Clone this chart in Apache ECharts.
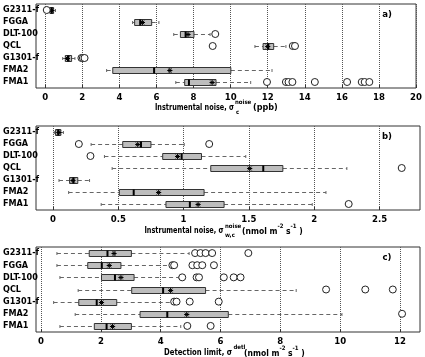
<!DOCTYPE html>
<html>
<head>
<meta charset="utf-8">
<script src="https://cdn.jsdelivr.net/npm/echarts@6/dist/echarts.min.js"></script>
<style>
  html, body { margin: 0; padding: 0; background: #fff; }
  #main { width: 425px; height: 357px; }
</style>
</head>
<body>
<div id="main"></div>
<script>
var instruments = ['G2311-f', 'FGGA', 'DLT-100', 'QCL', 'G1301-f', 'FMA2', 'FMA1'];

// box rows: [whisker low, q1, median, q3, whisker high]
// a) instrumental noise (ppb)
var boxA = [
  [0.18, 0.25, 0.35, 0.45, 0.55],
  [4.71, 4.82, 5.12, 5.74, 6.13],
  [6.93, 7.29, 7.57, 8.02, 8.89],
  [11.31, 11.75, 12.02, 12.32, 12.98],
  [0.94, 1.08, 1.24, 1.42, 1.6],
  [3.31, 3.64, 5.87, 10.01, 12.23],
  [7.04, 7.52, 7.75, 9.21, 11.08]
];
var meanA = [0.33, 5.24, 7.7, 12.0, 1.2, 6.72, 9.0];
var outA = [
  [0.08],
  [],
  [9.17],
  [9.03, 13.35, 13.47],
  [1.95, 2.03, 2.12],
  [],
  [11.96, 12.98, 13.12, 13.33, 14.54, 16.28, 17.07, 17.23, 17.48]
];
var ticksA = [0, 2, 4, 6, 8, 10, 12, 14, 16, 18, 20];

// b) instrumental noise (nmol m-2 s-1)
var boxB = [
  [0.01, 0.02, 0.04, 0.06, 0.08],
  [0.292, 0.534, 0.674, 0.75, 1.005],
  [0.394, 0.84, 0.985, 1.137, 1.476],
  [0.453, 1.208, 1.61, 1.76, 2.25],
  [0.046, 0.127, 0.157, 0.19, 0.28],
  [0.12, 0.508, 0.618, 1.157, 2.09],
  [0.369, 0.865, 1.048, 1.31, 1.985]
];
var meanB = [0.045, 0.649, 0.954, 1.506, 0.153, 0.809, 1.111];
var outB = [[], [0.198, 1.196], [0.287], [2.67], [], [], [2.264]];
var ticksB = [0, 0.5, 1, 1.5, 2, 2.5];

// c) detection limit (nmol m-2 s-1)
var boxC = [
  [0.53, 1.61, 2.22, 3.02, 4.95],
  [0.53, 1.56, 2.03, 2.67, 4.33],
  [0.63, 2.02, 2.47, 3.11, 4.61],
  [1.24, 3.03, 4.08, 5.5, 8.53],
  [0.42, 1.26, 1.86, 2.53, 4.39],
  [1.14, 3.31, 4.22, 6.26, 10.06],
  [0.63, 1.78, 2.19, 3.02, 4.67]
];
var meanC = [2.44, 2.28, 2.67, 4.33, 2.02, 4.87, 2.39];
var outC = [
  [5.15, 5.33, 5.5, 5.72, 6.93],
  [4.39, 4.45, 5.06, 5.22, 5.39, 5.78],
  [4.72, 5.2, 5.28, 6.11, 6.44, 6.67],
  [9.53, 10.84, 11.76],
  [4.45, 4.53, 4.97, 5.94],
  [12.07],
  [4.89, 5.67]
];
var ticksC = [0, 2, 4, 6, 8, 10, 12];

var FONT = '"Liberation Sans Narrow", "Arial Narrow", "DejaVu Sans Condensed", "Liberation Sans", Arial, sans-serif';

var chart = echarts.init(document.getElementById('main'));

// whiskers (dashed), box, median and mean asterisk for one instrument row
function drawBox(params, api) {
  var i = api.value(0);
  var p = [1, 2, 3, 4, 5, 6].map(function (d) {
    return api.coord([api.value(d), i]);
  });
  var y = Math.round(p[0][1]) + 0.5;
  var hh = 3;
  var dash = { stroke: '#666', lineWidth: 1, lineDash: [4, 3] };
  var cap = { stroke: '#666', lineWidth: 1 };
  var ast = { stroke: '#000', lineWidth: 1 };
  var m = p[5], r = 2.6, d = 1.9;
  return {
    type: 'group',
    children: [
      { type: 'line', shape: { x1: p[0][0], y1: y, x2: p[1][0], y2: y }, style: dash },
      { type: 'line', shape: { x1: p[3][0], y1: y, x2: p[4][0], y2: y }, style: dash },
      { type: 'line', shape: { x1: p[0][0], y1: y - 1.5, x2: p[0][0], y2: y + 1.5 }, style: cap },
      { type: 'line', shape: { x1: p[4][0], y1: y - 1.5, x2: p[4][0], y2: y + 1.5 }, style: cap },
      {
        type: 'rect',
        shape: { x: p[1][0], y: y - hh, width: p[3][0] - p[1][0], height: 2 * hh },
        style: { fill: '#bdbdbd', stroke: '#333', lineWidth: 1 }
      },
      { type: 'line', shape: { x1: p[2][0], y1: y - hh, x2: p[2][0], y2: y + hh }, style: { stroke: '#000', lineWidth: 2 } },
      // mean as '*'
      { type: 'line', shape: { x1: m[0] - r, y1: y, x2: m[0] + r, y2: y }, style: ast },
      { type: 'line', shape: { x1: m[0], y1: y - r, x2: m[0], y2: y + r }, style: ast },
      { type: 'line', shape: { x1: m[0] - d, y1: y - d, x2: m[0] + d, y2: y + d }, style: ast },
      { type: 'line', shape: { x1: m[0] - d, y1: y + d, x2: m[0] + d, y2: y - d }, style: ast }
    ]
  };
}

function boxRows(box, mean) {
  return box.map(function (b, i) {
    return [i, b[0], b[1], b[2], b[3], b[4], mean[i]];
  });
}

function outlierPoints(out) {
  var pts = [];
  out.forEach(function (vals, i) {
    vals.forEach(function (v) { pts.push([v, i]); });
  });
  return pts;
}

var grids = [
  { left: 35, right: 5, top: 4, height: 84 },
  { left: 35, right: 5, top: 126, height: 84 },
  { left: 35, right: 5, top: 247, height: 85 }
];

function xAxisFor(idx, min, max, ticks, splitNumber) {
  return {
    type: 'value',
    gridIndex: idx,
    min: min,
    max: max,
    splitNumber: splitNumber,
    axisLine: { show: false },
    axisTick: { show: true, inside: true, length: 3, customValues: ticks, lineStyle: { color: '#333' } },
    axisLabel: {
      customValues: ticks,
      margin: 5,
      color: '#000',
      fontFamily: FONT,
      fontWeight: 'bold',
      fontSize: 9.5
    },
    splitLine: { show: true, lineStyle: { color: '#555', type: 'dotted', width: 1 } }
  };
}

function yAxisFor(idx) {
  return {
    type: 'category',
    gridIndex: idx,
    data: instruments,
    inverse: true,
    axisLine: { show: false },
    axisTick: { show: false },
    splitLine: { show: false },
    axisLabel: {
      interval: 0,
      align: 'left',
      margin: 33,
      color: '#000',
      fontFamily: FONT,
      fontWeight: 'bold',
      fontSize: 9
    }
  };
}

var panels = [
  { box: boxA, mean: meanA, out: outA },
  { box: boxB, mean: meanB, out: outB },
  { box: boxC, mean: meanC, out: outC }
];

var series = [];
panels.forEach(function (pn, k) {
  series.push({
    type: 'custom',
    xAxisIndex: k,
    yAxisIndex: k,
    renderItem: drawBox,
    encode: { x: [1, 2, 3, 4, 5, 6], y: 0 },
    data: boxRows(pn.box, pn.mean),
    z: 3
  });
  series.push({
    type: 'scatter',
    xAxisIndex: k,
    yAxisIndex: k,
    symbol: 'circle',
    symbolSize: 7,
    itemStyle: { color: '#fff', borderColor: '#222', borderWidth: 1, opacity: 1 },
    data: outlierPoints(pn.out),
    z: 4
  });
});

function txt(x, y, s, size, align, sx) {
  return {
    type: 'text',
    x: x,
    y: y,
    scaleX: sx || 1,
    style: {
      text: s,
      fontFamily: FONT,
      fontWeight: 'bold',
      fontSize: size,
      fill: '#000',
      align: align || 'left',
      verticalAlign: 'middle'
    }
  };
}

function unitsText(x, y) {
  return {
    type: 'text',
    x: x,
    y: y,
    style: {
      text: '{t|(nmol m}{s|-2}{t| s}{s|-1}{t| )}',
      fontFamily: FONT,
      fontWeight: 'bold',
      fill: '#000',
      verticalAlign: 'middle',
      rich: {
        t: { fontSize: 8.5, fontWeight: 'bold', fontFamily: FONT, lineHeight: 13, verticalAlign: 'bottom' },
        s: { fontSize: 6, fontWeight: 'bold', fontFamily: FONT, lineHeight: 7, verticalAlign: 'top' }
      }
    }
  };
}

chart.setOption({
  animation: false,
  grid: grids.map(function (g) {
    return Object.assign({ show: true, borderColor: '#333', borderWidth: 1, backgroundColor: '#fff' }, g);
  }),
  xAxis: [
    xAxisFor(0, -0.5, 20, ticksA, 10),
    xAxisFor(1, -0.13, 2.81, ticksB, 6),
    xAxisFor(2, -0.17, 12.67, ticksC, 6)
  ],
  yAxis: [yAxisFor(0), yAxisFor(1), yAxisFor(2)],
  series: series,
  graphic: [
    txt(387, 15, 'a)', 9.5, 'center'),
    txt(387, 137, 'b)', 9.5, 'center'),
    txt(387, 258, 'c)', 9.5, 'center'),
    // a) axis title
    txt(234, 108, 'Instrumental noise, σ', 8.5, 'right', 0.85),
    txt(235, 102, 'noise', 6, 'left'),
    txt(236, 112.5, 'c', 6, 'left'),
    txt(253, 108, '(ppb)', 9, 'left'),
    // b) axis title
    txt(223.5, 230.5, 'Instrumental noise, σ', 8.5, 'right', 0.85),
    txt(225, 226.5, 'noise', 6, 'left'),
    txt(225, 235.5, 'w,c', 6, 'left'),
    unitsText(242, 229.5),
    // c) axis title
    txt(232, 353, 'Detection limit, σ', 8.5, 'right', 0.9),
    txt(233.5, 347.5, 'detl', 6, 'left'),
    unitsText(244, 352)
  ]
});
</script>
</body>
</html>
